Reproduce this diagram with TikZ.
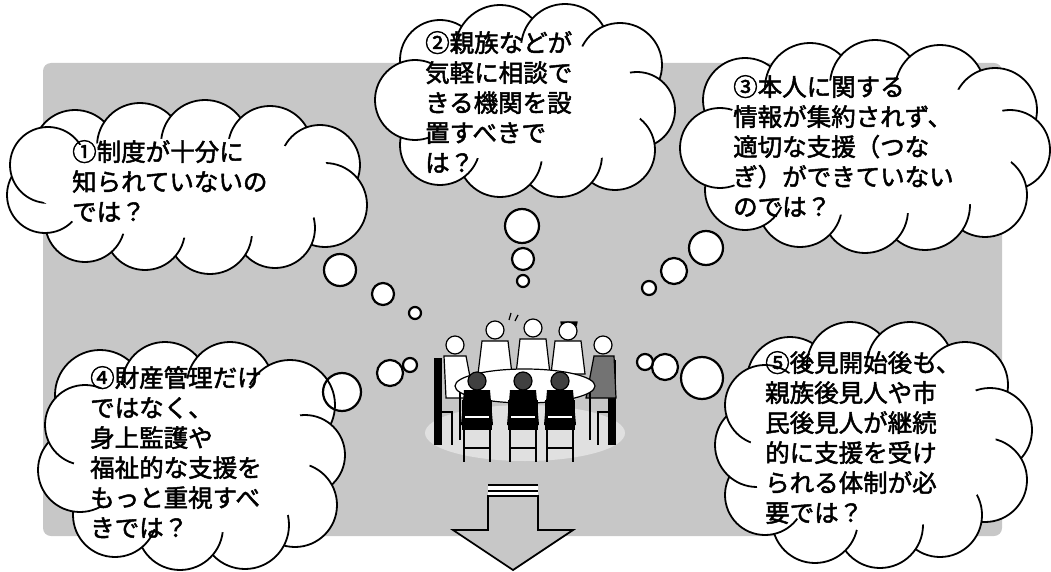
\documentclass[tikz,border=0pt]{standalone}
\usepackage{fontspec}
\newfontfamily\jpfont[FakeBold=2]{Noto Sans CJK JP}
\definecolor{panelgrey}{gray}{0.78}
\definecolor{shadowgrey}{gray}{0.88}

% A cloud made of overlapping lobes: each lobe is x/y/radius.
% The white core (with a white rim) hides most of the inner lobe arcs,
% leaving only short hooks at the joins.
\newcommand{\drawcloud}[2]{%
  \foreach \lx/\ly/\lrad [count=\li] in {#2} {
    \path[cloudline] (\lx,\ly) circle[radius=\lrad pt];
    \coordinate (#1-\li) at (\lx,\ly);
    \xdef\lobecount{\li}
  }
  \path[cloudcore] (#1-1) \foreach \lj in {2,...,\lobecount} { -- (#1-\lj) } -- cycle;
}

\begin{document}
\begin{tikzpicture}[x=1pt,y=-1pt,
  cloudline/.style={draw=black, line width=1.8pt, fill=white},
  cloudcore/.style={fill=white, draw=white, line width=13pt, line join=round},
  bubblefill/.style={fill=white},
  bubbleline/.style={draw=black, line width=2.2pt},
  cloudtext/.style={font=\jpfont\fontsize{24.5}{30}\selectfont, align=left,
                    anchor=north west, inner sep=0pt, text=black},
  arrowline/.style={draw=black, line width=1.8pt, line join=miter},
  figline/.style={draw=black, line width=1.2pt},
]
\useasboundingbox (0,0) rectangle (1051,572);

% dotted grey panel
\path[fill=panelgrey, rounded corners=8pt] (43,63) rectangle (1002,536);

% thought bubbles, interiors first
\def\bubbles{340/270/16, 383/294/11, 415/313/6,
             522/226/17, 523/259/11, 523/281/6,
             706/248/17, 674/271/13, 649/288/7,
             342/392/19, 390/373/13, 410/365/7,
             702/378/21, 665/367/13, 645/362/8}
\foreach \bx/\by/\br in \bubbles { \path[bubblefill] (\bx,\by) circle[radius=\br pt]; }

% clouds
\drawcloud{cA}{75/152/42, 140/146/43, 205/144/44, 270/148/42, 320/165/40, 325/205/42,
               275/228/40, 210/232/42, 145/230/40, 85/222/40, 45/195/38, 48/165/38}
\drawcloud{cB}{440/60/40, 500/50/45, 565/48/44, 620/65/42, 637/110/38, 615/150/40,
               560/155/42, 500/155/42, 440/145/40, 415/100/40}
\drawcloud{cC}{745/100/42, 810/88/45, 875/85/45, 940/90/45, 995/110/42, 1010/150/40,
               985/195/42, 925/205/45, 865/210/43, 800/205/42, 745/190/40, 720/148/40}
\drawcloud{cD}{100/395/45, 165/385/43, 230/385/43, 290/405/45, 305/455/40, 295/505/42,
               245/525/44, 180/527/43, 115/515/42, 80/470/42, 85/425/40}
\drawcloud{cE}{790/380/43, 850/365/43, 910/365/43, 965/385/43, 990/430/42, 985/480/42,
               940/515/42, 880/525/43, 815/520/43, 765/495/40, 757/445/42, 765/405/40}

% bubble outlines on top
\foreach \bx/\by/\br in \bubbles { \path[bubbleline] (\bx,\by) circle[radius=\br pt]; }

% texts
\node[cloudtext] (tA) at (72,140) {①制度が十分に\\知られていないの\\では？};
\node[cloudtext] (tB) at (425,31) {②親族などが\\気軽に相談で\\きる機関を設\\置すべきで\\は？};
\node[cloudtext] (tC) at (733,75) {③本人に関する\\情報が集約されず、\\適切な支援（つな\\ぎ）ができていない\\のでは？};
\node[cloudtext] (tD) at (90,366) {④財産管理だけ\\ではなく、\\身上監護や\\福祉的な支援を\\もっと重視すべ\\きでは？};
\node[cloudtext] (tE) at (765,351) {⑤後見開始後も、\\親族後見人や市\\民後見人が継続\\的に支援を受け\\られる体制が必\\要では？};

% meeting around a table
\fill[shadowgrey] (525,433) ellipse[x radius=100pt, y radius=28pt];
% side chairs
\fill[black] (434,358) rectangle (442,445);
\draw[black, line width=2pt] (442,412) -- (452,412) -- (452,445);
\fill[black] (608,360) rectangle (616,445);
\draw[black, line width=2pt] (608,412) -- (598,412) -- (598,445);
% people behind the table
\path[figline, fill=white] (444,356) -- (466,356) -- (474,398) -- (446,398) -- cycle;
\path[figline, fill=white] (455,345) circle[radius=9pt];
\path[figline, fill=white] (482,341) -- (508,341) -- (512,374) -- (478,374) -- cycle;
\path[figline, fill=white] (495,330) circle[radius=9pt];
\path[figline, fill=white] (520,339) -- (546,339) -- (550,374) -- (516,374) -- cycle;
\path[figline, fill=white] (533,328) circle[radius=9pt];
\path[figline, fill=white] (555,341) -- (581,341) -- (585,374) -- (551,374) -- cycle;
\path[figline, fill=black] (561,322) arc[start angle=180, end angle=360, radius=8pt] -- cycle;
\path[figline, fill=white] (568,331) circle[radius=9pt];
\path[figline, fill=black!55] (594,356) -- (614,356) -- (616,398) -- (586,398) -- cycle;
\path[figline, fill=white] (603,345) circle[radius=9pt];
\draw[black, line width=1.2pt] (509,320) -- (511,313) (515,321) -- (518,315);
% table
\path[figline, fill=white] (525,386) ellipse[x radius=70pt, y radius=17pt];
\draw[black, line width=1.2pt] (460,392) -- (460,440) (590,392) -- (590,440);
% people seen from behind, with their chairs
\foreach \px in {477,523,560} {
  \path[figline, fill=black!75] (\px,381) circle[radius=9pt];
  \fill[black] (\px-13,390) -- (\px+13,390) -- (\px+16,425) -- (\px-16,425) -- cycle;
  \fill[black] (\px-15,400) rectangle (\px+15,430);
  \fill[white] (\px-12,416) rectangle (\px+12,418);
  \draw[black, line width=2.4pt] (\px-13,430) -- (\px-13,462) (\px+13,430) -- (\px+13,462);
  \draw[black, line width=1.4pt] (\px-13,448) -- (\px+13,448);
}

% downward arrow
\path[fill=white] (488,484) rectangle (538,497);
\draw[black, line width=1.6pt] (488,485) -- (538,485) (488,491) -- (538,491);
\path[arrowline, fill=panelgrey] (488,496) -- (538,496) -- (538,530) -- (573,530)
  -- (513,570) -- (453,530) -- (488,530) -- cycle;
\end{tikzpicture}
\end{document}
